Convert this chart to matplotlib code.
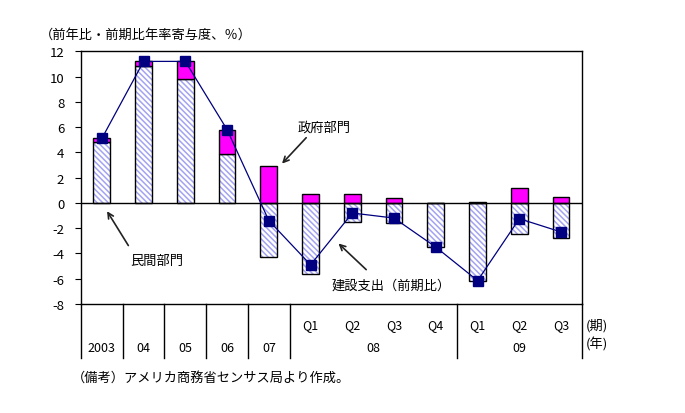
import matplotlib.pyplot as plt

plt.rcParams['font.family'] = ['Noto Sans CJK JP', 'DejaVu Sans']
plt.rcParams['hatch.linewidth'] = 1.1
plt.rcParams['axes.unicode_minus'] = False

# 12 periods: 2003-07 yearly, 2008 Q1-Q4, 2009 Q1-Q3
quarters = ['', '', '', '', '', 'Q1', 'Q2', 'Q3', 'Q4', 'Q1', 'Q2', 'Q3']
years = ['2003', '04', '05', '06', '07', '08', '09']
year_spans = [(0, 1), (1, 2), (2, 3), (3, 4), (4, 5), (5, 9), (9, 12)]

private = [4.8, 10.8, 9.8, 3.9, -4.3, -5.6, -1.5, -1.6, -3.5, -6.2, -2.5, -2.8]   # 民間部門
gov = [0.3, 0.4, 1.4, 1.9, 2.9, 0.7, 0.7, 0.4, 0.0, 0.05, 1.2, 0.45]            # 政府部門
total = [5.1, 11.2, 11.2, 5.8, -1.4, -4.9, -0.8, -1.2, -3.5, -6.15, -1.25, -2.3]  # 建設支出

x = list(range(len(private)))
w = 0.4
gov_bottom = [max(p, 0) for p in private]

fig = plt.figure(figsize=(6.85, 4.14), dpi=100)
ax = fig.add_axes([0.1182, 0.2633, 0.7314, 0.6104])

# hatched private bars (hatch drawn first, black outline on top)
ax.bar(x, private, width=w, color='white', edgecolor='#a3a3f2', hatch='\\\\\\\\\\\\', linewidth=0, zorder=2)
ax.bar(x, private, width=w, fill=False, edgecolor='black', linewidth=1, zorder=3)
ax.bar(x, gov, width=w, bottom=gov_bottom, color='#ff00ff', edgecolor='black', linewidth=1, zorder=3)

ax.plot(x, total, color='#000080', linewidth=0.9, marker='s', markersize=6.5,
        markerfacecolor='#000080', markeredgecolor='#000080', zorder=4)

ax.axhline(0, color='black', linewidth=1, zorder=3)
ax.set_xlim(-0.5, 11.5)
ax.set_ylim(-8, 12)
ax.set_yticks(range(-8, 13, 2))
ax.set_xticks([])
ax.tick_params(axis='y', direction='out', length=4, labelsize=9.5, pad=8)
for s in ax.spines.values():
    s.set_linewidth(1)

# category table under the axis
tr = ax.get_xaxis_transform()
for b in [-0.5, 0.5, 1.5, 2.5, 3.5, 4.5, 8.5, 11.5]:
    ax.plot([b, b], [0, -0.215], color='black', linewidth=1, transform=tr, clip_on=False)
for i, q in enumerate(quarters):
    if q:
        ax.text(i, -0.083, q, transform=tr, ha='center', va='center', fontsize=9)
for (a, b), y in zip(year_spans, years):
    ax.text((a + b - 1) / 2, -0.171, y, transform=tr, ha='center', va='center', fontsize=9)
ax.text(11.58, -0.083, '(期)', transform=tr, ha='left', va='center', fontsize=9.5)
ax.text(11.58, -0.155, '(年)', transform=tr, ha='left', va='center', fontsize=9.5)

# annotations
arrow = dict(arrowstyle='->', color='#222222', linewidth=1.2)
ax.annotate('', xy=(4.27, 2.95), xytext=(4.94, 5.32), arrowprops=arrow)
ax.text(5.32, 6.0, '政府部門', ha='center', va='center', fontsize=9.5)
ax.annotate('', xy=(0.09, -0.47), xytext=(0.67, -3.56), arrowprops=arrow)
ax.text(1.32, -4.56, '民間部門', ha='center', va='center', fontsize=9.5)
ax.annotate('', xy=(5.62, -3.06), xytext=(6.38, -5.43), arrowprops=arrow)
ax.text(6.93, -6.54, '建設支出（前期比）', ha='center', va='center', fontsize=9.5)

fig.text(0.058, 0.915, '（前年比・前期比年率寄与度、％）', fontsize=9.5, va='center')
fig.text(0.105, 0.087, '（備考）アメリカ商務省センサス局より作成。', fontsize=9.5, va='center')

fig.savefig('out.png', dpi=100)
